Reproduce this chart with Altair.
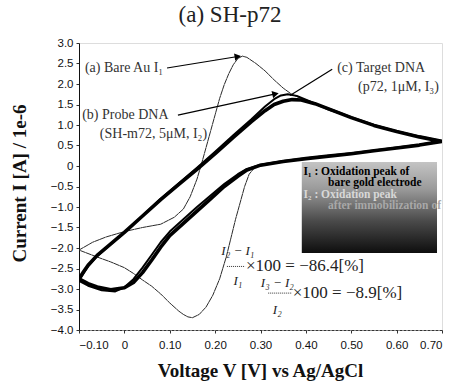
import math
import altair as alt
import pandas as pd

# ---------------- data ----------------
# (a) Bare Au electrode (thin line)
bare_v = [-0.10, -0.07, -0.04, 0.00, 0.04, 0.08, 0.11, 0.13, 0.145, 0.16,
          0.17, 0.18, 0.19, 0.20, 0.21, 0.22, 0.23, 0.24, 0.25, 0.26,
          0.27, 0.29, 0.31, 0.33, 0.35, 0.37, 0.40, 0.45, 0.50, 0.55,
          0.60, 0.65, 0.70,
          0.65, 0.60, 0.55, 0.50, 0.45, 0.40, 0.35, 0.31, 0.29, 0.275,
          0.265, 0.255, 0.245, 0.235, 0.225, 0.21, 0.195, 0.18, 0.165, 0.15,
          0.14, 0.13, 0.12, 0.10, 0.08, 0.06, 0.04, 0.02, 0.00, -0.03,
          -0.06, -0.10]
bare_i = [-2.05, -1.86, -1.73, -1.60, -1.50, -1.42, -1.25, -1.05, -0.75, -0.32,
          0.05, 0.45, 0.85, 1.25, 1.65, 1.98, 2.25, 2.47, 2.62, 2.68,
          2.65, 2.50, 2.32, 2.10, 1.90, 1.74, 1.60, 1.36, 1.18, 0.99,
          0.84, 0.71, 0.60,
          0.50, 0.44, 0.37, 0.30, 0.24, 0.18, 0.11, 0.05, 0.00, -0.20,
          -0.50, -0.90, -1.30, -1.75, -2.20, -2.75, -3.15, -3.44, -3.62, -3.70,
          -3.68, -3.62, -3.54, -3.34, -3.12, -2.93, -2.78, -2.62, -2.48, -2.34,
          -2.22, -2.05]

# (b) Probe DNA (SH-m72, 5 uM)
probe_v = [-0.10, -0.09, -0.08, -0.06, -0.03, 0.00, 0.04, 0.08, 0.12, 0.16,
           0.20, 0.24, 0.28, 0.31, 0.33, 0.345, 0.36, 0.38, 0.40, 0.43,
           0.46, 0.50, 0.55, 0.60, 0.65, 0.70,
           0.65, 0.60, 0.55, 0.50, 0.45, 0.40, 0.35, 0.30, 0.27, 0.25,
           0.22, 0.19, 0.16, 0.13, 0.10, 0.08, 0.06, 0.04, 0.02, 0.00,
           -0.02, -0.05, -0.08, -0.10]
probe_i = [-2.80, -2.62, -2.45, -2.20, -1.91, -1.62, -1.21, -0.80, -0.42, -0.04,
           0.35, 0.75, 1.14, 1.45, 1.63, 1.72, 1.75, 1.71, 1.62, 1.48,
           1.36, 1.19, 1.00, 0.85, 0.72, 0.61,
           0.52, 0.45, 0.38, 0.31, 0.25, 0.19, 0.12, 0.03, -0.07, -0.20,
           -0.44, -0.72, -1.00, -1.30, -1.60, -1.86, -2.17, -2.48, -2.76, -2.96,
           -3.06, -3.03, -2.92, -2.80]

# (c) Target DNA (p72, 1 uM)
target_v = [-0.10, -0.09, -0.08, -0.06, -0.03, 0.00, 0.04, 0.08, 0.12, 0.16,
            0.20, 0.24, 0.28, 0.31, 0.33, 0.35, 0.37, 0.39, 0.42, 0.46,
            0.50, 0.55, 0.60, 0.65, 0.70,
            0.65, 0.60, 0.55, 0.50, 0.45, 0.40, 0.35, 0.30, 0.27, 0.25,
            0.22, 0.19, 0.16, 0.13, 0.10, 0.08, 0.06, 0.04, 0.02, 0.00,
            -0.03, -0.06, -0.08, -0.10]
target_i = [-2.75, -2.58, -2.42, -2.18, -1.90, -1.62, -1.22, -0.82, -0.45, -0.08,
            0.30, 0.70, 1.08, 1.35, 1.50, 1.58, 1.62, 1.61, 1.52, 1.35,
            1.18, 0.99, 0.84, 0.71, 0.60,
            0.51, 0.44, 0.37, 0.30, 0.24, 0.18, 0.11, 0.02, -0.10, -0.25,
            -0.50, -0.80, -1.10, -1.40, -1.70, -1.98, -2.30, -2.60, -2.84, -2.97,
            -3.02, -2.95, -2.87, -2.75]

x_ticks = [-0.1, 0, 0.1, 0.2, 0.3, 0.4, 0.5, 0.6, 0.7]
y_ticks = [3.0, 2.5, 2.0, 1.5, 1.0, 0.5, 0, -0.5, -1.0, -1.5, -2.0, -2.5, -3.0, -3.5, -4.0]

# annotation labels (text, V, I)
label_text = ["(a) Bare Au I\u2081", "(b) Probe DNA", "(SH-m72, 5\u03bcM, I\u2082)",
              "(c) Target DNA", "(p72, 1\u03bcM, I\u2083)"]
label_v = [-0.087, -0.093, -0.054, 0.469, 0.515]
label_i = [2.39, 1.24, 0.78, 2.39, 1.93]

# arrows (from -> to)
arrow_v1 = [0.094, 0.118, 0.458]
arrow_i1 = [2.39, 1.24, 2.36]
arrow_v2 = [0.250, 0.333, 0.365]
arrow_i2 = [2.67, 1.76, 1.72]
arrow_head = [True, True, False]

# shaded note box
box_v = [0.391, 0.689]
box_i = [0.10, -2.12]
note_text = ["I\u2081 : Oxidation peak of", "bare gold electrode",
             "I\u2082 : Oxidation peak", "after immobilization of"]
note_v = [0.395, 0.449, 0.395, 0.449]
note_i = [-0.14, -0.42, -0.70, -0.98]
note_col = ["#000000", "#000000", "#d8d8d8", "#a8a8a8"]

# formulas
frac_num = ["I\u2082 \u2212 I\u2081", "I\u2083 \u2212 I\u2082"]
frac_den = ["I\u2081", "I\u2082"]
frac_rest = ["\u00d7100 = \u221286.4[%]", "\u00d7100 = \u22128.9[%]"]
frac_v1 = [0.226, 0.317]
frac_v2 = [0.266, 0.369]
frac_vc = [0.250, 0.337]
frac_line_i = [-2.45, -3.10]
frac_num_i = [-2.08, -2.86]
frac_den_i = [-2.80, -3.52]

# ---------------- build tables ----------------
rows = []
for name, vs, cs in [("bare", bare_v, bare_i), ("probe", probe_v, probe_i),
                     ("target", target_v, target_i)]:
    for k, (v, c) in enumerate(zip(vs, cs)):
        rows.append({"series": name, "V": v, "I": c, "k": k})
curves = pd.DataFrame(rows)

SERIF = "'Liberation Serif', 'Times New Roman', serif"

X0, X1, Y0, Y1 = -0.1, 0.7, -4.0, 3.0
W, H = 363, 287
xs = alt.Scale(domain=[X0, X1], nice=False, zero=False)
ys = alt.Scale(domain=[Y0, Y1], nice=False, zero=False)

xaxis = alt.Axis(values=x_ticks, labelExpr="datum.value == 0 ? '0' : format(datum.value, '.2f')",
                 title="Voltage V [V] vs Ag/AgCl", titleFont=SERIF,
                 titleFontSize=19, titleFontWeight="bold", titleColor="#111",
                 titleX=181, titleY=40, titleAlign="center", titleBaseline="middle",
                 labelFont="Liberation Sans", labelFontSize=11.5, labelColor="#111",
                 labelPadding=6, tickSize=3, tickColor="#333", domainColor="#333",
                 domainDash=[3, 1], grid=False)
yaxis = alt.Axis(values=y_ticks, labelExpr="datum.value == 0 ? '0' : format(datum.value, '.1f')",
                 title="Current I [A] / 1e-6", titleFont=SERIF,
                 titleFontSize=19, titleFontWeight="bold", titleColor="#111",
                 titleX=-60, titleY=140, titleAngle=270, titleAlign="center",
                 titleBaseline="middle",
                 labelFont="Liberation Sans", labelFontSize=11.5, labelColor="#111",
                 labelPadding=3, tickSize=3, tickColor="#333", domainColor="#111",
                 grid=False)


def X(field):
    return alt.X(field, scale=xs, axis=xaxis)


def Y(field):
    return alt.Y(field, scale=ys, axis=yaxis)


def curve(name, width, color, dash=None):
    kw = dict(strokeWidth=width, color=color, clip=True, strokeJoin="round", strokeCap="round")
    if dash:
        kw["strokeDash"] = dash
    return alt.Chart(curves).transform_filter(alt.datum.series == name).mark_line(**kw).encode(
        x=X("V:Q"), y=Y("I:Q"), order="k:Q")


bare = curve("bare", 1.0, "#2a2a2a", dash=[5, 1])
probe = curve("probe", 2.0, "#000000")
target = curve("target", 3.6, "#000000")

# note box with gradient
box_df = pd.DataFrame({"v1": [box_v[0]], "v2": [box_v[1]], "i1": [box_i[0]], "i2": [box_i[1]]})
box = alt.Chart(box_df).mark_rect(
    color=alt.Gradient(gradient="linear",
                       stops=[alt.GradientStop(color="#c4c4c4", offset=0),
                              alt.GradientStop(color="#9a9a9a", offset=0.3),
                              alt.GradientStop(color="#4a4a4a", offset=0.65),
                              alt.GradientStop(color="#0e0e0e", offset=1)],
                       x1=0, x2=0, y1=0, y2=1)
).encode(x=X("v1:Q"), x2="v2:Q", y=Y("i1:Q"), y2="i2:Q")

note_df = pd.DataFrame({"t": note_text, "V": note_v, "I": note_i, "c": note_col})
notes = alt.Chart(note_df).mark_text(font=SERIF, fontSize=11.5, fontWeight="bold",
                                     align="left", baseline="middle").encode(
    x=X("V:Q"), y=Y("I:Q"), text="t:N", color=alt.Color("c:N", scale=None))

# labels
lab_df = pd.DataFrame({"t": label_text, "V": label_v, "I": label_i})
labels = alt.Chart(lab_df).mark_text(font=SERIF, fontSize=14, color="#333",
                                     align="left", baseline="middle").encode(
    x=X("V:Q"), y=Y("I:Q"), text="t:N")

# arrows
sx = W / (X1 - X0)
sy = H / (Y1 - Y0)
angles = [math.degrees(math.atan2(-(b2 - b1) * sy, (a2 - a1) * sx)) % 360
          for a1, b1, a2, b2 in zip(arrow_v1, arrow_i1, arrow_v2, arrow_i2)]
arr_df = pd.DataFrame({"v1": arrow_v1, "i1": arrow_i1, "v2": arrow_v2, "i2": arrow_i2,
                       "head": arrow_head, "ang": angles})
arrow_lines = alt.Chart(arr_df).mark_rule(color="#000", strokeWidth=1.2).encode(
    x=X("v1:Q"), y=Y("i1:Q"), x2="v2:Q", y2="i2:Q")
arrow_heads = alt.Chart(arr_df).transform_filter(alt.datum.head).mark_point(
    shape="triangle-right", filled=True, color="#000", size=55, opacity=1).encode(
    x=X("v2:Q"), y=Y("i2:Q"), angle=alt.Angle("ang:Q", scale=None))

# formulas
fr_df = pd.DataFrame({"num": frac_num, "den": frac_den, "rest": frac_rest,
                      "v1": frac_v1, "v2": frac_v2, "vc": frac_vc, "li": frac_line_i,
                      "ni": frac_num_i, "di": frac_den_i})
fr_df["vr"] = fr_df["v2"] + 0.002
frac_lines = alt.Chart(fr_df).mark_rule(color="#333", strokeWidth=1, strokeDash=[1, 1]).encode(
    x=X("v1:Q"), x2="v2:Q", y=Y("li:Q"))
frac_nums = alt.Chart(fr_df).mark_text(font=SERIF, fontSize=13, fontStyle="italic",
                                       color="#222", align="center", baseline="middle").encode(
    x=X("vc:Q"), y=Y("ni:Q"), text="num:N")
frac_dens = alt.Chart(fr_df).mark_text(font=SERIF, fontSize=13, fontStyle="italic",
                                       color="#222", align="center", baseline="middle").encode(
    x=X("vc:Q"), y=Y("di:Q"), text="den:N")
frac_rests = alt.Chart(fr_df).mark_text(font=SERIF, fontSize=17,
                                        color="#222", align="left", baseline="middle").encode(
    x=X("vr:Q"), y=Y("li:Q"), text="rest:N")

# title
title = alt.Chart(pd.DataFrame({"t": ["(a)  SH-p72"]})).mark_text(
    font=SERIF, fontSize=23, color="#222", align="center", baseline="middle"
).encode(x=alt.value(151), y=alt.value(-28), text="t:N")

chart = alt.layer(
    bare, probe, target, box, notes, labels, arrow_lines, arrow_heads,
    frac_lines, frac_nums, frac_dens, frac_rests, title
).properties(
    width=W, height=H, autosize="none",
    padding={"left": 79, "top": 43, "right": 14, "bottom": 58}
).configure_view(
    stroke="#444", strokeWidth=1, strokeDash=[1, 1.5]
).configure(background="white")

chart.save("out.html", embed_options={"renderer": "svg", "actions": False})
